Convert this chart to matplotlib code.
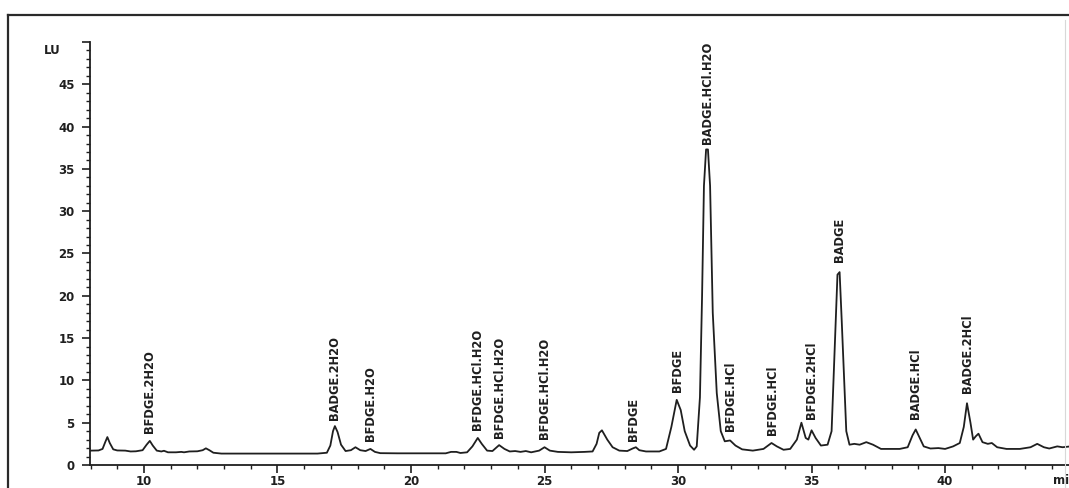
import matplotlib
matplotlib.use("Agg")
import matplotlib.pyplot as plt
from matplotlib.ticker import MultipleLocator
from matplotlib.lines import Line2D

# Fluorescence trace: retention time (min) and response (LU)
time_min = [
    8.0, 8.3, 8.45, 8.55, 8.63, 8.72, 8.85, 9.0, 9.3, 9.5, 9.7, 9.95,
    10.1, 10.22, 10.33, 10.48, 10.65, 10.75, 10.9, 11.2, 11.4, 11.5, 11.7, 12.0,
    12.2, 12.32, 12.45, 12.6, 12.9, 13.5, 14.5, 15.5, 16.5, 16.85, 16.98, 17.08,
    17.15, 17.25, 17.38, 17.55, 17.75, 17.92, 18.1, 18.3, 18.48, 18.65, 18.85, 19.5,
    20.5, 21.3, 21.5, 21.7, 21.85, 22.1, 22.3, 22.5, 22.65, 22.85, 23.05, 23.3,
    23.5, 23.7, 23.9, 24.1, 24.3, 24.5, 24.8, 25.0, 25.2, 25.5, 26.0, 26.5,
    26.8, 26.95, 27.05, 27.15, 27.35, 27.55, 27.8, 28.1, 28.3, 28.42, 28.55, 28.8,
    29.3, 29.55, 29.75, 29.95, 30.1, 30.25, 30.45, 30.6, 30.7, 30.82, 30.9, 30.97,
    31.05, 31.12, 31.2, 31.3, 31.45, 31.6, 31.75, 31.95, 32.15, 32.4, 32.8, 33.2,
    33.5, 33.7, 33.95, 34.2, 34.45, 34.62, 34.78, 34.88, 35.0, 35.15, 35.35, 35.6,
    35.75, 35.88, 35.97, 36.05, 36.13, 36.22, 36.3, 36.42, 36.6, 36.8, 37.05, 37.3,
    37.6, 38.3, 38.6, 38.78, 38.9, 39.05, 39.2, 39.45, 39.75, 40.0, 40.3, 40.55,
    40.7, 40.82, 40.95, 41.05, 41.15, 41.25, 41.4, 41.6, 41.75, 41.95, 42.3, 42.8,
    43.2, 43.45, 43.7, 43.9, 44.2, 44.4, 44.7,
]
signal_lu = [
    1.7, 1.72, 1.9, 2.7, 3.3, 2.6, 1.85, 1.72, 1.7, 1.6, 1.62, 1.75,
    2.4, 2.85, 2.3, 1.7, 1.6, 1.68, 1.5, 1.5, 1.55, 1.5, 1.6, 1.62,
    1.75, 1.97, 1.75, 1.45, 1.35, 1.35, 1.35, 1.35, 1.35, 1.45, 2.3, 4.0,
    4.6, 3.9, 2.4, 1.65, 1.75, 2.1, 1.75, 1.65, 1.9, 1.55, 1.4, 1.38,
    1.38, 1.38, 1.55, 1.55, 1.42, 1.5, 2.2, 3.2, 2.5, 1.7, 1.65, 2.35,
    1.9, 1.6, 1.65, 1.55, 1.65, 1.5, 1.7, 2.1, 1.7, 1.55, 1.5, 1.55,
    1.6, 2.5, 3.8, 4.1, 3.0, 2.1, 1.7, 1.65, 1.95, 2.1, 1.75, 1.6,
    1.6, 1.9, 4.5, 7.7, 6.5, 4.0, 2.3, 1.8, 2.2, 8.0, 20.0, 33.0,
    37.3, 37.3, 33.0, 18.0, 8.5, 4.0, 2.8, 2.9, 2.3, 1.85, 1.7, 1.9,
    2.6, 2.2, 1.8, 1.9, 3.0, 5.0, 3.2, 3.0, 4.1, 3.2, 2.3, 2.4,
    4.0, 15.0, 22.5, 22.8, 17.0, 10.0, 4.0, 2.4, 2.5, 2.4, 2.7, 2.4,
    1.9, 1.9, 2.1, 3.5, 4.2, 3.2, 2.2, 1.95, 2.0, 1.9, 2.2, 2.6,
    4.5, 7.3, 5.0, 3.0, 3.4, 3.7, 2.7, 2.5, 2.6, 2.1, 1.9, 1.9,
    2.1, 2.5, 2.1, 1.95, 2.2, 2.1, 2.2,
]

# Peak annotations: compound, retention time, LU level where the label starts
peak_names = [
    "BFDGE.2H2O", "BADGE.2H2O", "BFDGE.H2O", "BFDGE.HCl.H2O", "BFDGE.HCl.H2O",
    "BFDGE.HCl.H2O", "BFDGE", "BFDGE", "BADGE.HCl.H2O", "BFDGE.HCl",
    "BFDGE.HCl", "BFDGE.2HCl", "BADGE", "BADGE.HCl", "BADGE.2HCl",
]
peak_times = [10.22, 17.15, 18.49, 22.5, 23.33, 25.0, 28.35, 29.97, 31.1, 31.95,
              33.55, 35.0, 36.05, 38.9, 40.85]
label_base = [3.8, 5.3, 2.8, 4.1, 3.2, 3.1, 2.8, 8.6, 38.0, 4.0,
              3.6, 5.4, 24.0, 5.4, 8.5]

x_ticks = [10, 15, 20, 25, 30, 35, 40]
y_ticks = [0, 5, 10, 15, 20, 25, 30, 35, 40, 45, 50]
y_tick_labels = ["0", "5", "10", "15", "20", "25", "30", "35", "40", "45", ""]

ink = "#1f1f1f"
W, H = 1069, 488

fig = plt.figure(figsize=(W / 100, H / 100), dpi=100)
fig.patch.set_facecolor("white")

ax = fig.add_axes([90 / W, 23 / H, 1 - 90 / W, 423 / H])
ax.set_facecolor("none")
ax.plot(time_min, signal_lu, color=ink, lw=1.3, solid_joinstyle="round", zorder=3)

ax.set_xlim(7.98, 44.64)
ax.set_ylim(0, 50)
for side in ("top", "right"):
    ax.spines[side].set_visible(False)
for side in ("left", "bottom"):
    ax.spines[side].set_color(ink)
    ax.spines[side].set_linewidth(1.3)

tick_font = dict(family="DejaVu Sans", weight="bold", size=8.5)
ax.set_xticks(x_ticks)
ax.set_xticklabels([str(v) for v in x_ticks], **tick_font, color=ink)
ax.xaxis.set_minor_locator(MultipleLocator(1))
ax.set_yticks(y_ticks)
ax.set_yticklabels(y_tick_labels, **tick_font, color=ink)
ax.yaxis.set_minor_locator(MultipleLocator(1))
ax.tick_params(axis="both", which="major", length=6, width=1.2, color=ink)
ax.tick_params(axis="x", which="major", pad=1)
ax.tick_params(axis="y", which="major", pad=5)
ax.tick_params(axis="both", which="minor", length=3, width=1.0, color=ink)

for name, t, base in zip(peak_names, peak_times, label_base):
    ax.text(t, base, name, rotation=90, ha="center", va="bottom",
            family="DejaVu Sans", weight="bold", fontsize=8.3, color=ink,
            zorder=4)

# axis units
fig.text(52 / W, 1 - 50 / H, "LU", ha="center", va="center", color=ink,
         **tick_font)
fig.text(1053 / W, 1 - 480 / H, "min", ha="left", va="center", color=ink,
         **tick_font)

# printed frame around the chromatogram
fig.add_artist(Line2D([7.5 / W, 7.5 / W], [0, 1 - 15 / H], transform=fig.transFigure,
                      color="#2a2a2a", lw=1.6))
fig.add_artist(Line2D([7.5 / W, 1], [1 - 15 / H, 1 - 15 / H], transform=fig.transFigure,
                      color="#2a2a2a", lw=1.6))
fig.add_artist(Line2D([1065 / W, 1065 / W], [0, 1 - 20 / H], transform=fig.transFigure,
                      color="#d8d8d8", lw=0.8))

fig.savefig("out.png", dpi=100, facecolor="white")
